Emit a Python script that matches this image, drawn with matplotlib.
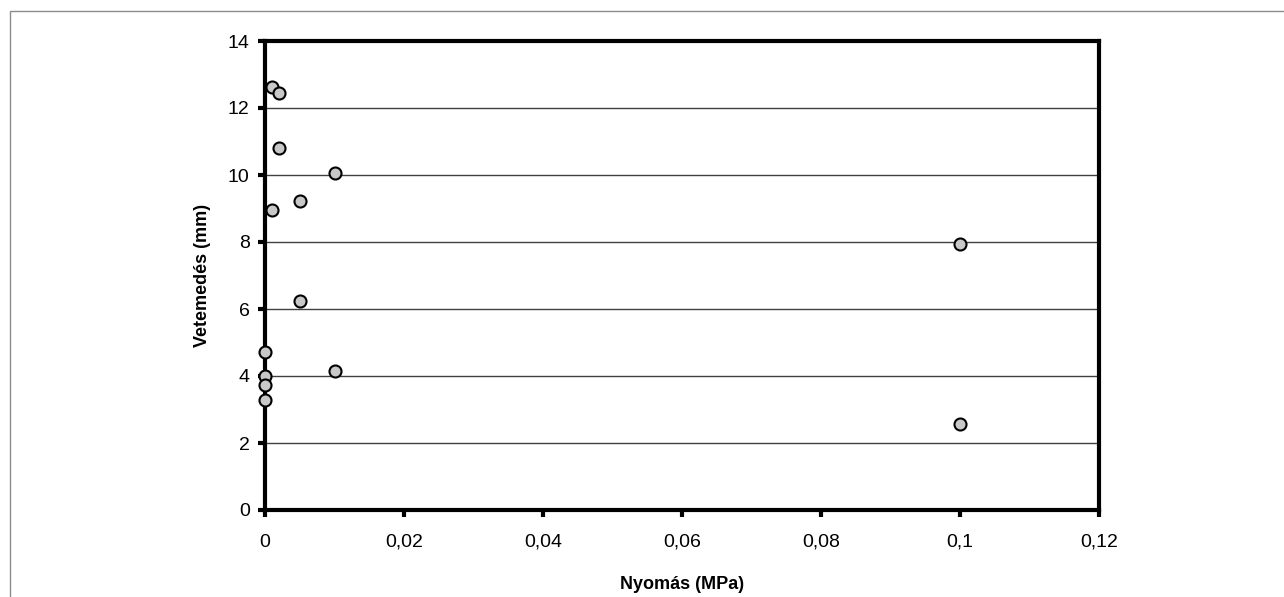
import numpy as np
import matplotlib.pyplot as plt
from matplotlib.patches import Rectangle
from matplotlib.ticker import FuncFormatter

# pressure (MPa) vs warping (mm)
nyomas = [0.001, 0.002, 0.002, 0.01, 0.001, 0.005, 0.005, 0.0, 0.0, 0.0, 0.0, 0.01, 0.1, 0.1]
vetemedes = [12.63, 12.46, 10.8, 10.05, 8.95, 9.23, 6.25, 4.72, 4.01, 3.73, 3.28, 4.15, 7.94, 2.57]

x_ticks = [0, 0.02, 0.04, 0.06, 0.08, 0.1, 0.12]
y_ticks = [0, 2, 4, 6, 8, 10, 12, 14]

plt.rcParams['font.family'] = ['Liberation Sans', 'DejaVu Sans']

W, H = 1284, 597
fig = plt.figure(figsize=(W / 100, H / 100), dpi=100)

# outer chart frame (runs off the right and bottom edge)
fig.patches.append(Rectangle((10 / W, -0.1), 1.2, 1 - 11 / H + 0.1, transform=fig.transFigure,
                             fill=False, edgecolor='#8c8c8c', linewidth=1))

ax = fig.add_axes([265 / W, 1 - 510 / H, (1099 - 265) / W, (510 - 41) / H])

ax.scatter(nyomas, vetemedes, s=75, facecolor='#c8c8c8', edgecolor='black', linewidth=1.5, zorder=3, clip_on=False)

ax.set_xlim(0, 0.12)
ax.set_ylim(0, 14)
ax.set_xticks(x_ticks)
ax.set_yticks(y_ticks)

def comma(v, pos):
    s = ('%g' % round(v, 4)).replace('.', ',')
    return s

ax.xaxis.set_major_formatter(FuncFormatter(comma))
ax.yaxis.set_major_formatter(FuncFormatter(comma))

ax.grid(axis='y', color='#404040', linewidth=1)
ax.set_axisbelow(True)

for sp in ax.spines.values():
    sp.set_linewidth(3)
    sp.set_color('black')

ax.tick_params(axis='both', direction='out', length=5, width=3, labelsize=14, colors='black')
ax.tick_params(axis='x', pad=12)
ax.tick_params(axis='y', pad=6)

ax.set_xlabel('Nyomás (MPa)', fontsize=13, fontweight='bold', labelpad=18)
ax.set_ylabel('Vetemedés (mm)', fontsize=13, fontweight='bold', labelpad=12)

fig.savefig('out.png', dpi=100)
